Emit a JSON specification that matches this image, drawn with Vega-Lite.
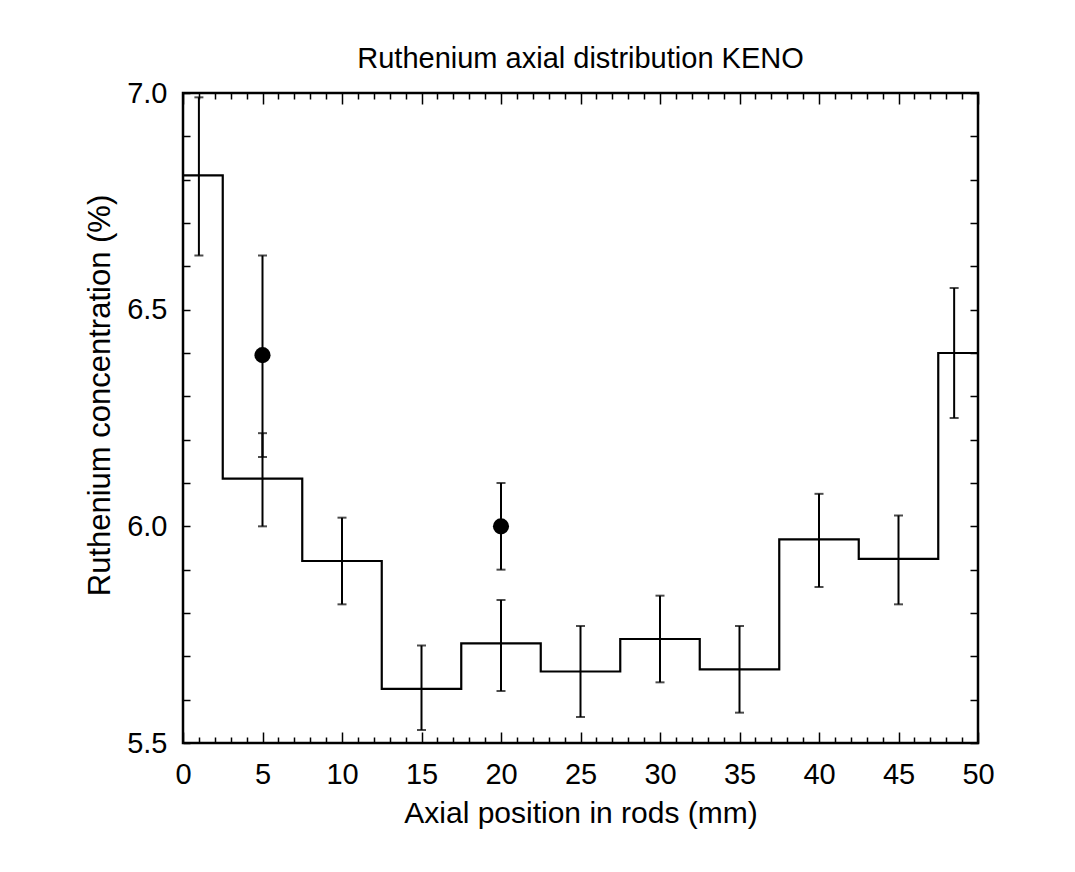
{
  "$schema": "https://vega.github.io/schema/vega-lite/v6.json",
  "width": 795,
  "height": 650,
  "autosize": "none",
  "padding": {"left": 183, "top": 93, "right": 97, "bottom": 129},
  "background": "white",
  "title": {"text": "Ruthenium axial distribution KENO", "font": "Liberation Sans", "fontSize": 29, "fontWeight": "normal", "offset": 5, "color": "black"},
  "config": {"view": {"stroke": "black", "strokeWidth": 2.5}, "font": "Liberation Sans"},
  "datasets": {
    "hist": [
      {"x": 0, "v": 6.81}, {"x": 2.5, "v": 6.11}, {"x": 7.5, "v": 5.92}, {"x": 12.5, "v": 5.625},
      {"x": 17.5, "v": 5.73}, {"x": 22.5, "v": 5.665}, {"x": 27.5, "v": 5.74}, {"x": 32.5, "v": 5.67},
      {"x": 37.5, "v": 5.97}, {"x": 42.5, "v": 5.925}, {"x": 47.5, "v": 6.40}, {"x": 50, "v": 6.40}
    ],
    "err": [
      {"x": 1.0, "lo": 6.625, "hi": 6.99},
      {"x": 5, "lo": 6.00, "hi": 6.215},
      {"x": 10, "lo": 5.82, "hi": 6.02},
      {"x": 15, "lo": 5.53, "hi": 5.725},
      {"x": 20, "lo": 5.62, "hi": 5.83},
      {"x": 25, "lo": 5.56, "hi": 5.77},
      {"x": 30, "lo": 5.64, "hi": 5.84},
      {"x": 35, "lo": 5.57, "hi": 5.77},
      {"x": 40, "lo": 5.86, "hi": 6.075},
      {"x": 45, "lo": 5.82, "hi": 6.025},
      {"x": 48.5, "lo": 6.25, "hi": 6.55},
      {"x": 5, "lo": 6.16, "hi": 6.625},
      {"x": 20, "lo": 5.90, "hi": 6.10}
    ],
    "pts": [
      {"x": 5, "v": 6.395},
      {"x": 20, "v": 6.0}
    ]
  },
  "resolve": {"axis": {"x": "independent", "y": "independent"}},
  "layer": [
    {
      "data": {"name": "hist"},
      "mark": {"type": "line", "interpolate": "step-after", "color": "black", "strokeWidth": 2.2},
      "encoding": {
        "x": {"field": "x", "type": "quantitative", "scale": {"domain": [0, 50], "nice": false},
          "axis": {"orient": "bottom", "values": [0,1,2,3,4,5,6,7,8,9,10,11,12,13,14,15,16,17,18,19,20,21,22,23,24,25,26,27,28,29,30,31,32,33,34,35,36,37,38,39,40,41,42,43,44,45,46,47,48,49,50],
            "labelExpr": "datum.value % 5 === 0 ? datum.label : ''",
            "tickSize": {"condition": {"test": "datum.value % 5 === 0", "value": -11}, "value": -6},
            "tickColor": "black", "tickWidth": 1.5, "domain": false, "grid": false,
            "labelFontSize": 29, "labelColor": "black", "labelPadding": 28, "labelFlush": false, "labelOverlap": false,
            "title": "Axial position in rods (mm)", "titleFontSize": 30, "titleFontWeight": "normal", "titleColor": "black", "titlePadding": 4}},
        "y": {"field": "v", "type": "quantitative", "scale": {"domain": [5.5, 7.0], "nice": false, "zero": false},
          "axis": {"orient": "left", "values": [5.5,5.6,5.7,5.8,5.9,6.0,6.1,6.2,6.3,6.4,6.5,6.6,6.7,6.8,6.9,7.0],
            "labelExpr": "abs(datum.value*2 - round(datum.value*2)) < 0.001 ? format(datum.value, '.1f') : ''",
            "tickSize": -7, "tickColor": "black", "tickWidth": 1.5, "domain": false, "grid": false,
            "labelFontSize": 29, "labelColor": "black", "labelPadding": 23, "labelFlush": false, "labelOverlap": false,
            "title": "Ruthenium concentration (%)", "titleFontSize": 31, "titleFontWeight": "normal", "titleColor": "black", "titlePadding": 10, "titleY": 302}}
      }
    },
    {
      "data": {"name": "err"},
      "mark": {"type": "rule", "color": "black", "strokeWidth": 2},
      "encoding": {
        "x": {"field": "x", "type": "quantitative",
          "axis": {"orient": "top", "values": [0,1,2,3,4,5,6,7,8,9,10,11,12,13,14,15,16,17,18,19,20,21,22,23,24,25,26,27,28,29,30,31,32,33,34,35,36,37,38,39,40,41,42,43,44,45,46,47,48,49,50],
            "labels": false, "title": null, "domain": false, "grid": false,
            "tickSize": {"condition": {"test": "datum.value % 5 === 0", "value": -11}, "value": -6},
            "tickColor": "black", "tickWidth": 1.5}},
        "y": {"field": "lo", "type": "quantitative",
          "axis": {"orient": "right", "values": [5.5,5.6,5.7,5.8,5.9,6.0,6.1,6.2,6.3,6.4,6.5,6.6,6.7,6.8,6.9,7.0],
            "labels": false, "title": null, "domain": false, "grid": false,
            "tickSize": -8, "tickColor": "black", "tickWidth": 1.5}},
        "y2": {"field": "hi"}
      }
    },
    {
      "data": {"name": "err"},
      "mark": {"type": "tick", "orient": "horizontal", "color": "black", "size": 9, "thickness": 2},
      "encoding": {
        "x": {"field": "x", "type": "quantitative", "axis": null},
        "y": {"field": "lo", "type": "quantitative", "axis": null}
      }
    },
    {
      "data": {"name": "err"},
      "mark": {"type": "tick", "orient": "horizontal", "color": "black", "size": 9, "thickness": 2},
      "encoding": {
        "x": {"field": "x", "type": "quantitative", "axis": null},
        "y": {"field": "hi", "type": "quantitative", "axis": null}
      }
    },
    {
      "data": {"name": "pts"},
      "mark": {"type": "point", "filled": true, "shape": "circle", "color": "black", "size": 260, "opacity": 1},
      "encoding": {
        "x": {"field": "x", "type": "quantitative", "axis": null},
        "y": {"field": "v", "type": "quantitative", "axis": null}
      }
    }
  ]
}
